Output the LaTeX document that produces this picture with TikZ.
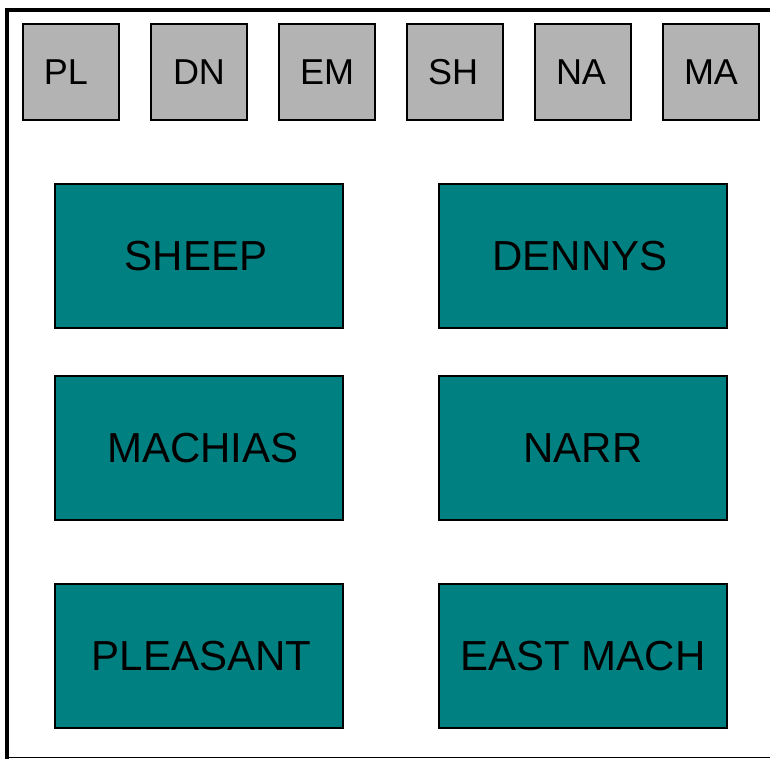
\documentclass[tikz,border=0pt]{standalone}
\usepackage{fontspec}
\setmainfont{Liberation Sans}
\definecolor{teal1}{HTML}{008080}
\definecolor{gray1}{HTML}{B3B3B3}
\begin{document}
\begin{tikzpicture}[x=1pt,y=-1pt,
  smallbox/.style={draw=black,line width=1.2pt,fill=gray1,minimum width=96pt,minimum height=96pt,inner sep=0pt,font=\fontsize{36}{40}\selectfont},
  bigbox/.style={draw=black,line width=1.2pt,fill=teal1,minimum width=288pt,minimum height=144pt,inner sep=0pt,font=\fontsize{42}{46}\selectfont}]
\useasboundingbox (0,0) rectangle (770,759);
\fill[white] (0,0) rectangle (770,759);
\draw[line width=4pt] (7,759) -- (7,10) -- (770,10);
\draw[line width=1.5pt] (7,757.5) -- (770,757.5);
\node[smallbox] (pl) at (71,72) {\hspace{-10pt}PL};
\node[smallbox] (dn) at (199,72) {DN};
\node[smallbox] (em) at (327,72) {EM};
\node[smallbox] (sh) at (455,72) {\hspace{-4pt}SH};
\node[smallbox] (na) at (583,72) {\hspace{-4pt}NA};
\node[smallbox] (ma) at (711,72) {MA};
\node[bigbox,text depth=-2pt] (sheep) at (199,256) {\hspace{-6pt}SHEEP};
\node[bigbox] (dennys) at (583,256) {\hspace{-6pt}DENNYS};
\node[bigbox] (machias) at (199,448) {\hspace{8pt}MACHIAS};
\node[bigbox] (narr) at (583,448) {NARR};
\node[bigbox] (pleasant) at (199,656) {\hspace{5pt}PLEASANT};
\node[bigbox] (eastmach) at (583,656) {EAST MACH};
\end{tikzpicture}
\end{document}
